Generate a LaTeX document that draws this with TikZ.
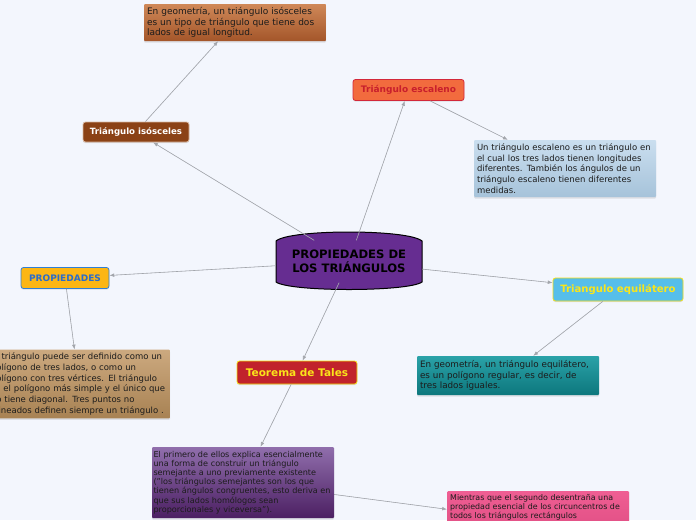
\documentclass[tikz,border=0pt]{standalone}
\usepackage{fontspec}
\setmainfont{DejaVu Sans}
\usetikzlibrary{arrows.meta,shadows}
\definecolor{bgpage}{HTML}{F3F6FD}
\definecolor{linkgray}{HTML}{A3A6AC}
\definecolor{notetext}{HTML}{1C1C1C}
\definecolor{centerpurple}{HTML}{662D91}
\definecolor{isosfill}{HTML}{8B4216}
\definecolor{isosedge}{HTML}{D9B8A0}
\definecolor{escafill}{HTML}{F26B3E}
\definecolor{escaedge}{HTML}{D3283A}
\definecolor{escatext}{HTML}{C81F2C}
\definecolor{propsfill}{HTML}{FCB614}
\definecolor{propsedge}{HTML}{2F7FD5}
\definecolor{propstext}{HTML}{2A6CCB}
\definecolor{equifill}{HTML}{56BEEA}
\definecolor{yellowedge}{HTML}{F5DF10}
\definecolor{yellowtext}{HTML}{FAE51A}
\definecolor{talesfill}{HTML}{C1232C}
\definecolor{isostop}{HTML}{CF8858}
\definecolor{isosbot}{HTML}{A4562A}
\definecolor{escatop}{HTML}{CADEEF}
\definecolor{escabot}{HTML}{A6C3DA}
\definecolor{propstop}{HTML}{CCA97F}
\definecolor{propsbot}{HTML}{A88253}
\definecolor{equitop}{HTML}{2AA2A8}
\definecolor{equibot}{HTML}{0D777D}
\definecolor{talestop}{HTML}{906EAC}
\definecolor{talesbot}{HTML}{4C2063}
\definecolor{pinktop}{HTML}{EF5E93}
\definecolor{pinkbot}{HTML}{D9477D}
\hyphenpenalty=10000

\begin{document}
\begin{tikzpicture}[x=1pt,y=-1pt,>={Latex[length=1.7mm,width=1.3mm]},
  link/.style={->,draw=linkgray,fill=linkgray,line width=0.6pt},
  topic/.style={rounded corners=2.5pt,line width=0.8pt,minimum height=21pt,inner xsep=2pt,
    font=\fontsize{9}{10}\selectfont\bfseries,
    drop shadow={shadow xshift=0pt,shadow yshift=-1.2pt,opacity=0.2}},
  note/.style={text width=176pt,align=left,inner xsep=3pt,inner ysep=3pt,
    font=\fontsize{8.5}{10.8}\selectfont,text=notetext,rounded corners=1pt,
    drop shadow={shadow xshift=0pt,shadow yshift=-1.5pt,opacity=0.2}}]
  \useasboundingbox (0,0) rectangle (696,520);
  \clip (0,0) rectangle (696,520);
  \fill[bgpage] (0,0) rectangle (696,520);

  % central topic
  \path[fill=centerpurple,draw=black,line width=1pt]
    (276,241) .. controls (290,229) and (408,229) .. (422,241)
    -- (422,282) .. controls (408,292) and (290,292) .. (276,282) -- cycle;
  \node[minimum width=146pt,minimum height=42pt,align=center,text=black,
        font=\fontsize{11.6}{14}\selectfont\bfseries] (ctr) at (349,261.5)
        {PROPIEDADES DE\\LOS TRIÁNGULOS};

  % main topics
  \node[topic,minimum width=106pt,minimum height=20pt,fill=isosfill,draw=isosedge,
        text=white,font=\fontsize{8.6}{10}\selectfont\bfseries] (isos) at (136,132) {Triángulo isósceles};
  \node[topic,minimum width=111pt,fill=escafill,draw=escaedge,text=escatext]
        (esca) at (408.5,90) {Triángulo escaleno};
  \node[topic,minimum width=88pt,fill=propsfill,draw=propsedge,text=propstext]
        (props) at (65,278) {PROPIEDADES};
  \node[topic,minimum width=130pt,minimum height=23pt,fill=equifill,draw=yellowedge,
        text=yellowtext,font=\fontsize{10.1}{11}\selectfont\bfseries] (equi) at (618,289.5) {Triangulo equilátero};
  \node[topic,minimum width=120pt,minimum height=23pt,fill=talesfill,draw=yellowedge,
        text=yellowtext,font=\fontsize{10.5}{11}\selectfont\bfseries] (tales) at (297,372.5) {Teorema de Tales};

  % notes
  \node[note,minimum height=37pt,top color=isostop,bottom color=isosbot,
        font=\fontsize{9}{10.8}\selectfont] (isosnote) at (235,22.5)
    {En geometría, un triángulo isósceles\\es un tipo de triángulo que tiene dos\\lados de igual longitud.};
  \node[note,minimum height=57pt,top color=escatop,bottom color=escabot] (escanote) at (565,168.5)
    {Un triángulo escaleno es un triángulo en\\el cual los tres lados tienen longitudes\\diferentes. También los ángulos de un\\triángulo escaleno tienen diferentes\\medidas.};
  \node[note,minimum height=68pt,top color=propstop,bottom color=propsbot] (propsnote) at (79,384)
    {El triángulo puede ser definido como un\\polígono de tres lados, o como un\\polígono con tres vértices. El triángulo\\es el polígono más simple y el único que\\no tiene diagonal. Tres puntos no\\alineados definen siempre un triángulo .};
  \node[note,minimum height=39pt,top color=equitop,bottom color=equibot,
        font=\fontsize{8.8}{10.8}\selectfont] (equinote) at (508,375.5)
    {En geometría, un triángulo equilátero,\\es un polígono regular, es decir, de\\tres lados iguales.};
  \node[note,minimum height=71pt,text width=179pt,inner xsep=1.5pt,top color=talestop,bottom color=talesbot,
        font=\fontsize{8.1}{9.2}\selectfont] (talesnote) at (243,482.5)
    {El primero de ellos explica esencialmente\\una forma de construir un triángulo\\semejante a uno previamente existente\\("los triángulos semejantes son los que\\tienen ángulos congruentes, esto deriva en\\que sus lados homólogos sean\\proporcionales y viceversa").};
  \node[note,anchor=north west,text depth=48pt,top color=pinktop,bottom color=pinkbot,
        font=\fontsize{7.9}{9.3}\selectfont] (mientras) at (447,491)
    {Mientras que el segundo desentraña una\\propiedad esencial de los circuncentros de\\todos los triángulos rectángulos};

  % connectors
  \draw[link] (ctr) -- (isos);
  \draw[link] (isos) -- (isosnote);
  \draw[link] (ctr) -- (esca);
  \draw[link] (esca) -- (escanote);
  \draw[link] (ctr) -- (props);
  \draw[link] (props) -- (propsnote);
  \draw[link] (ctr) -- (equi);
  \draw[link] (equi) -- (equinote);
  \draw[link] (ctr) -- (tales);
  \draw[link] (tales) -- (talesnote);
  \draw[link] (talesnote) -- (mientras);
\end{tikzpicture}
\end{document}
